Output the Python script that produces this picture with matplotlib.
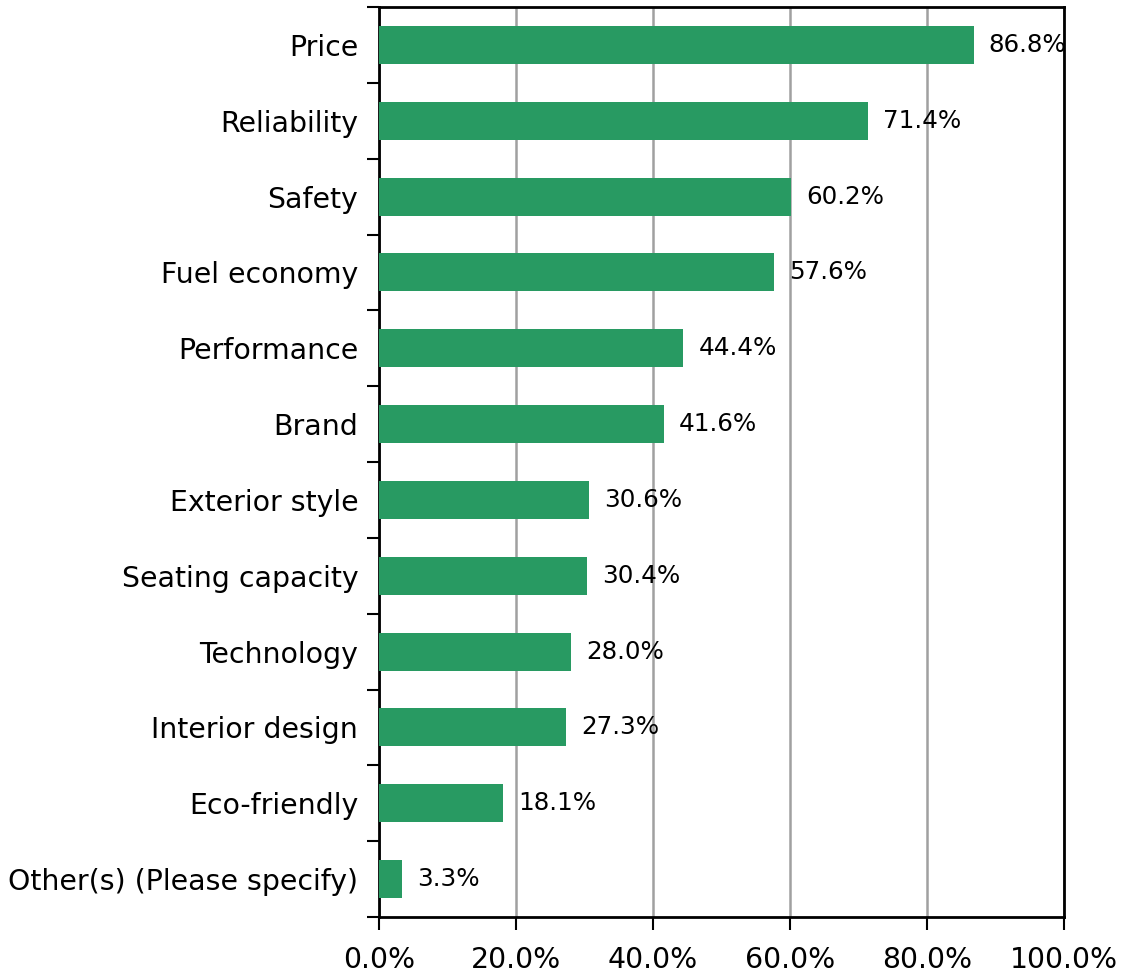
import matplotlib
matplotlib.use("Agg")
import matplotlib.pyplot as plt
from matplotlib.ticker import FuncFormatter, FixedLocator

categories = ['Price', 'Reliability', 'Safety', 'Fuel economy', 'Performance', 'Brand',
              'Exterior style', 'Seating capacity', 'Technology', 'Interior design',
              'Eco-friendly', 'Other(s) (Please specify)']
values = [86.8, 71.4, 60.2, 57.6, 44.4, 41.6, 30.6, 30.4, 28.0, 27.3, 18.1, 3.3]
x_ticks = [0, 20, 40, 60, 80, 100]

plt.rcParams['font.family'] = 'DejaVu Sans'

fig = plt.figure(figsize=(11.28, 9.75), dpi=100)
ax = fig.add_axes([379 / 1128, 1 - 917 / 975, (1064 - 379) / 1128, (917 - 7) / 975])

n = len(categories)
ypos = list(range(n))
ax.barh(ypos, values, height=0.5, color='#289A62', zorder=3)
for y, v in zip(ypos, values):
    ax.annotate(f'{v:.1f}%', (v, y), xytext=(11, 0), textcoords='offset points',
                va='center', ha='left', fontsize=17.7, zorder=4)

ax.set_xlim(0, 100)
ax.set_ylim(n - 0.5, -0.5)
ax.set_xticks(x_ticks)
ax.xaxis.set_major_formatter(FuncFormatter(lambda x, p: f'{x:.1f}%'))
ax.tick_params(axis='x', labelsize=20.4, length=9, width=1.5, direction='out', pad=12)

ax.set_yticks(ypos)
ax.set_yticklabels(categories, fontsize=20.4)
ax.tick_params(axis='y', which='major', length=0, pad=15)
ax.yaxis.set_minor_locator(FixedLocator([k - 0.5 for k in range(n + 1)]))
ax.tick_params(axis='y', which='minor', length=9, width=1.5, direction='out')

ax.grid(axis='x', color='#a0a0a0', linewidth=1.8, zorder=0)
for s in ax.spines.values():
    s.set_linewidth(2)
    s.set_color('black')

fig.savefig('out.png', dpi=100)
